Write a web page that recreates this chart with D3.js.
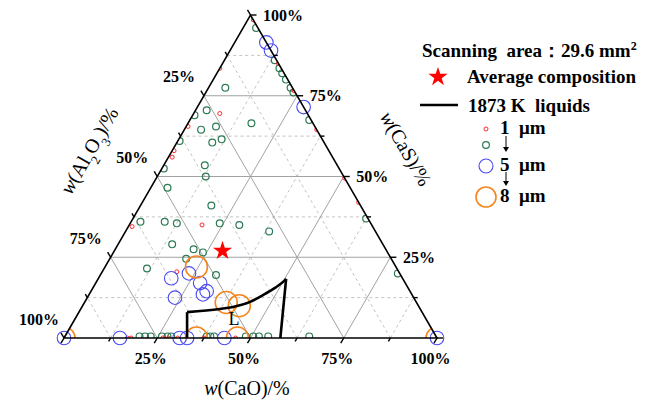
<!DOCTYPE html>
<html>
<head>
<meta charset="utf-8">
<script src="https://cdn.jsdelivr.net/npm/d3@7"></script>
<style>
  body { margin: 0; background: #fff; }
  text { font-family: "Liberation Serif", "Times New Roman", serif; }
</style>
</head>
<body>
<div id="chart"></div>
<script>
// every composition is [CaO, Al2O3, CaS] in %
var tickValues = [0, 12.5, 25, 37.5, 50, 62.5, 75, 87.5, 100];
var labelValues = [25, 50, 75, 100];
var majorGrid = [25, 50, 75];
var minorGrid = [12.5, 37.5, 62.5, 87.5];

var inclusions1um = [
    [0, 16.5, 83.5], [7, 23.5, 69.5], [0.5, 34, 65.5], [0.5, 41.5, 58], [1, 43, 56],
    [19.5, 45.5, 35], [1, 64.5, 34.5], [20, 59.5, 20.5], [1.5, 0, 98.5], [15, 0, 85],
    [23.5, 0, 76.5], [35.5, 0, 64.5], [50.5, 0, 49.5], [58, 0, 42],
    [17, 83, 0], [18, 82, 0], [26.5, 73.5, 0], [28, 72, 0], [30.5, 69.5, 0],
    [37.5, 62.5, 0], [46, 54, 0]
];
var inclusions3um = [
    [4.5, 18, 77.5], [3, 26.5, 70.5], [0.5, 30.5, 69], [8, 26.5, 65.5], [4.5, 31, 64.5],
    [11.5, 27, 61.5], [9.5, 30, 60.5], [0.5, 38.5, 61], [17, 16.5, 66.5], [11, 35.5, 53.5],
    [13, 37, 50], [0.5, 47, 52.5], [4.5, 49, 46.5], [19, 40, 41], [2.5, 61.5, 36],
    [9, 55, 36], [12.5, 52, 35.5], [24, 40.5, 35.5], [29.5, 35.5, 35], [38.5, 28.5, 33],
    [14.5, 56.5, 29], [21, 51.5, 27.5], [24, 49.5, 26.5], [20.5, 55, 24.5], [11.5, 67, 21.5],
    [31, 49.5, 19.5],
    [3.5, 0.5, 96], [13.5, 0.5, 86], [16, 0.5, 83.5], [17.5, 0.5, 82], [19.5, 0.5, 80],
    [22, 0.5, 77.5], [23.5, 0.5, 76], [32, 0.5, 67.5], [62.5, 0.5, 37], [79.5, 0.5, 20],
    [20, 79.5, 0.5], [21.5, 78, 0.5], [23, 76.5, 0.5], [26, 73.5, 0.5], [27.5, 72, 0.5],
    [28.5, 71, 0.5], [38, 61.5, 0.5], [39, 60.5, 0.5], [40, 59.5, 0.5], [48.5, 51, 0.5],
    [50.5, 49, 0.5], [52, 47.5, 0.5], [54.5, 45, 0.5], [65.5, 34, 0.5]
];
var inclusions5um = [
    [8.5, 0, 91.5], [11, 0, 89], [28.5, 0, 71.5], [19.5, 62, 18.5], [23.5, 56.5, 20],
    [28, 55, 17], [31, 54.5, 14.5], [30.5, 56, 13.5], [23.5, 64, 12.5],
    [0, 100, 0], [15, 85, 0], [31, 69, 0], [33, 67, 0], [43, 57, 0], [100, 0, 0]
];
var inclusions8um = [
    [24.5, 53.5, 22], [38, 51, 11], [42, 48, 10],
    [0, 100, 0], [35.5, 64.5, 0], [46.5, 53.5, 0], [100, 0, 0]
];
var averageComposition = [29, 44, 27];

// 1873 K liquid region boundary
var liquidsLeft = [[33, 67, 0], [29, 63, 8]];
var liquidsCurve = [[29, 63, 8], [37.3, 53.7, 9], [40.5, 49.9, 9.6], [44.3, 44.5, 11.2],
    [46.7, 40, 13.3], [48.8, 35.7, 15.5], [50, 32.7, 17.3], [50.4, 31.3, 18.3]];
var liquidsRight = [[50.4, 31.3, 18.3], [58, 42, 0]];

var width = 654, height = 402;

var svg = d3.select("#chart")
    .append("svg")
    .attr("width", width)
    .attr("height", height);

// horizontal position = CaO + CaS/2, vertical = CaS
var x = d3.scaleLinear().domain([0, 100]).range([64, 437]);
var y = d3.scaleLinear().domain([0, 100]).range([338, 15]);

function px(d) { return x(d[0] + d[2] / 2); }
function py(d) { return y(d[2]); }

var corners = [[0, 100, 0], [100, 0, 0], [0, 0, 100]];

svg.append("clipPath")
    .attr("id", "tri")
    .append("polygon")
    .attr("points", corners.map(function (d) { return px(d) + "," + py(d); }).join(" "));

function gridLines(v) {
    return [
        [[0, 100 - v, v], [100 - v, 0, v]],
        [[v, 100 - v, 0], [v, 0, 100 - v]],
        [[100 - v, v, 0], [0, v, 100 - v]]
    ];
}

var line = d3.line().x(px).y(py);

// minor grid (dashed)
svg.append("g").selectAll("path")
    .data(d3.merge(minorGrid.map(gridLines)))
    .join("path")
    .attr("d", line)
    .attr("fill", "none")
    .attr("stroke", "#bcbcbc")
    .attr("stroke-width", 0.9)
    .attr("stroke-dasharray", "3,3");

// major grid
svg.append("g").selectAll("path")
    .data(d3.merge(majorGrid.map(gridLines)))
    .join("path")
    .attr("d", line)
    .attr("fill", "none")
    .attr("stroke", "#a2a2a2")
    .attr("stroke-width", 1);

// inclusion circles
function drawCircles(data, r, color, sw, clipped) {
    var g = svg.append("g");
    if (clipped) g.attr("clip-path", "url(#tri)");
    g.selectAll("circle")
        .data(data)
        .join("circle")
        .attr("cx", px)
        .attr("cy", py)
        .attr("r", r)
        .attr("fill", "none")
        .attr("stroke", color)
        .attr("stroke-width", sw);
}
drawCircles(inclusions3um, 3.4, "#2b7a52", 1.2, true);
drawCircles(inclusions1um, 2, "#ff2a2a", 1, true);
drawCircles(inclusions5um, 6.8, "#4a4af2", 1.1, false);
drawCircles(inclusions8um, 11, "#f5861f", 1.6, true);

// triangle frame
svg.append("path")
    .datum(corners.concat([corners[0]]))
    .attr("d", line)
    .attr("fill", "none")
    .attr("stroke", "#000")
    .attr("stroke-width", 1.6);

// ticks: bottom (CaO), left (Al2O3), right (CaS)
var s3 = Math.sqrt(3) / 2;
var axes = [
    { pos: function (v) { return [v, 100 - v, 0]; }, dx: -0.5, dy: s3, lx: -6.5, ly: 25.5, anchor: "middle" },
    { pos: function (v) { return [0, v, 100 - v]; }, dx: -0.5, dy: -s3, lx: -25, ly: -13.5, anchor: "middle" },
    { pos: function (v) { return [100 - v, 0, v]; }, dx: 1, dy: 0, lx: 12.5, ly: 5.5, anchor: "start" }
];

axes.forEach(function (a) {
    svg.append("g").selectAll("line")
        .data(tickValues)
        .join("line")
        .attr("x1", function (v) { return px(a.pos(v)); })
        .attr("y1", function (v) { return py(a.pos(v)); })
        .attr("x2", function (v) { var L = v % 25 === 0 ? 6 : 4; return px(a.pos(v)) + a.dx * L; })
        .attr("y2", function (v) { var L = v % 25 === 0 ? 6 : 4; return py(a.pos(v)) + a.dy * L; })
        .attr("stroke", "#000")
        .attr("stroke-width", 1.4);

    svg.append("g").selectAll("text")
        .data(labelValues)
        .join("text")
        .attr("x", function (v) { return px(a.pos(v)) + a.lx; })
        .attr("y", function (v) { return py(a.pos(v)) + a.ly; })
        .attr("text-anchor", a.anchor)
        .attr("font-size", 16)
        .attr("font-weight", "bold")
        .text(function (v) { return v + "%"; });
});

// liquid region
[liquidsLeft, liquidsRight].forEach(function (seg) {
    svg.append("path")
        .datum(seg)
        .attr("d", line)
        .attr("fill", "none")
        .attr("stroke", "#000")
        .attr("stroke-width", 2.6);
});
svg.append("path")
    .datum(liquidsCurve)
    .attr("d", d3.line().x(px).y(py).curve(d3.curveMonotoneX))
    .attr("fill", "none")
    .attr("stroke", "#000")
    .attr("stroke-width", 2.6)
    .attr("stroke-linejoin", "round");

svg.append("text")
    .attr("x", 234)
    .attr("y", 325)
    .attr("text-anchor", "middle")
    .attr("font-size", 18)
    .text("L");

// average composition star
svg.append("path")
    .attr("d", d3.symbol(d3.symbolStar, 115)())
    .attr("transform", "translate(" + px(averageComposition) + "," + py(averageComposition) + ")")
    .attr("fill", "#ff0000");

// axis titles
function title(parts, tx, ty, rot) {
    var el = svg.append("text")
        .attr("transform", "translate(" + tx + "," + ty + ") rotate(" + rot + ")")
        .attr("text-anchor", "middle")
        .attr("font-size", 20);
    el.append("tspan").attr("font-style", "italic").text("w");
    parts.forEach(function (p) {
        var s = el.append("tspan").text(p[0]);
        if (p[1]) s.attr("baseline-shift", "sub").attr("font-size", 13);
    });
}
title([["(CaO)/%"]], 247, 395, 0);
title([["(Al"], ["2", true], ["O"], ["3", true], [")/%"]], 95, 154, -60);
title([["(CaS)/%"]], 400, 152, 60);

// legend
var lg = svg.append("g").attr("font-size", 19).attr("font-weight", "bold");
var t1 = lg.append("text").attr("x", 422).attr("y", 57).attr("xml:space", "preserve");
t1.append("tspan").text("Scanning  area\uff1a29.6 mm");
t1.append("tspan").attr("baseline-shift", "super").attr("font-size", 12).text("2");

lg.append("path")
    .attr("d", d3.symbol(d3.symbolStar, 115)())
    .attr("transform", "translate(438,77)")
    .attr("fill", "#ff0000");
lg.append("text").attr("x", 467).attr("y", 83).text("Average composition");

lg.append("line").attr("x1", 420).attr("x2", 458).attr("y1", 105).attr("y2", 105)
    .attr("stroke", "#000").attr("stroke-width", 2.6);
lg.append("text").attr("x", 468).attr("y", 112).attr("xml:space", "preserve").text("1873 K  liquids");

var sizeLegend = [
    { cy: 129, r: 2, color: "#ff2a2a", sw: 1, label: "1  \u03bcm" },
    { cy: 145, r: 3.4, color: "#2b7a52", sw: 1.2, label: "" },
    { cy: 166, r: 7, color: "#4a4af2", sw: 1.1, label: "5  \u03bcm" },
    { cy: 197, r: 10, color: "#f5861f", sw: 1.6, label: "8  \u03bcm" }
];
sizeLegend.forEach(function (d) {
    lg.append("circle").attr("cx", 486).attr("cy", d.cy).attr("r", d.r)
        .attr("fill", "none").attr("stroke", d.color).attr("stroke-width", d.sw);
    if (d.label) {
        lg.append("text").attr("x", 500).attr("y", d.cy + 5).attr("xml:space", "preserve").text(d.label);
    }
});

// small arrows between sizes
[[136, 152], [172, 186]].forEach(function (a) {
    lg.append("line").attr("x1", 506).attr("x2", 506).attr("y1", a[0]).attr("y2", a[1] - 2)
        .attr("stroke", "#000").attr("stroke-width", 1);
    lg.append("path")
        .attr("d", "M503," + (a[1] - 5) + "L506," + a[1] + "L509," + (a[1] - 5) + "Z")
        .attr("fill", "#000");
});
</script>
</body>
</html>
